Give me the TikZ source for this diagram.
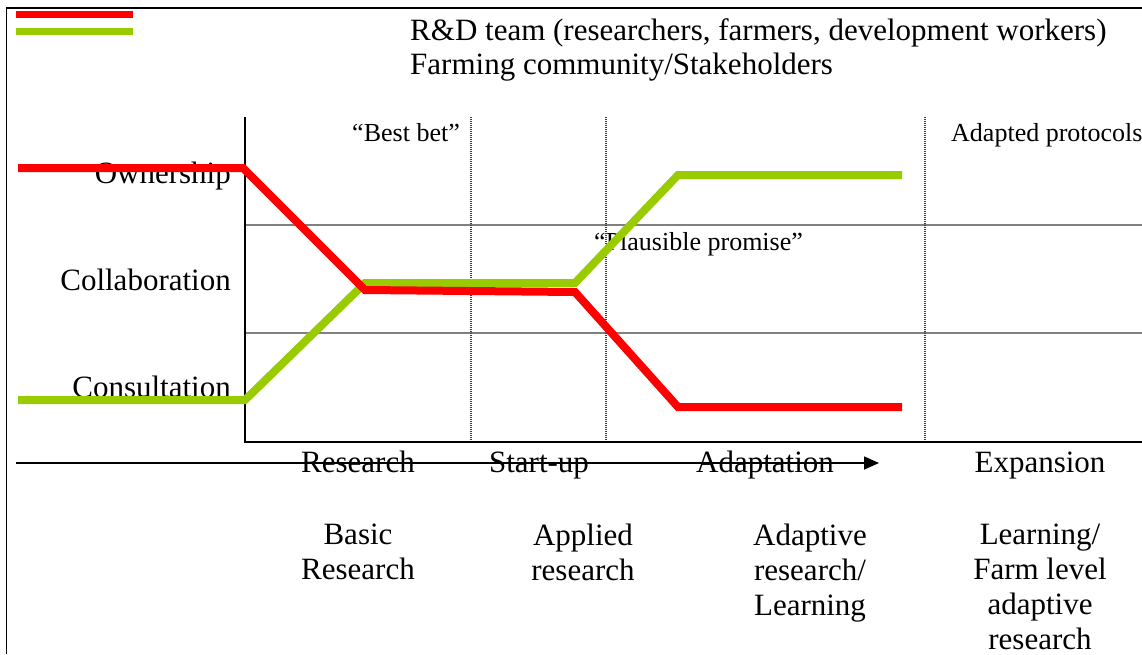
\documentclass[tikz,border=0pt]{standalone}
\usepackage{fontspec}
\setmainfont{Liberation Serif}
\usetikzlibrary{arrows.meta}
\definecolor{rdred}{HTML}{FF0000}
\definecolor{farmgreen}{HTML}{99CC00}
\definecolor{gridgray}{HTML}{808080}
\begin{document}
\begin{tikzpicture}[x=1pt,y=-1pt,
  big/.style={inner sep=0pt,font=\fontsize{31}{35}\selectfont},
  small/.style={inner sep=0pt,font=\fontsize{26}{30}\selectfont},
  stack/.style={big,align=center,anchor=north},
  gridline/.style={gridgray,line width=1.6pt},
  phaseline/.style={gridgray!45!black,line width=2pt,dash pattern=on 1pt off 1pt},
  curve/.style={line width=8pt,line join=miter,line cap=butt},
  frame/.style={black,line width=1.6pt}]
\useasboundingbox (0,0) rectangle (1142,654);

% outer frame
\draw[frame] (1142,8) -- (6.5,8) -- (6.5,654);

% legend
\draw[rdred,line width=7pt] (16,14) -- (133,14);
\draw[farmgreen,line width=7pt] (16,31) -- (133,31);
\node[big,anchor=base west] (legR) at (410,40) {R\&D team (researchers, farmers, development workers)};
\node[big,anchor=base west] (legF) at (410,74) {Farming community/Stakeholders};

% chart grid
\draw[gridline] (245,225) -- (1142,225);
\draw[gridline] (245,333) -- (1142,333);
\draw[phaseline] (471,117) -- (471,442);
\draw[phaseline] (606,117) -- (606,442);
\draw[phaseline] (925,117) -- (925,442);
\draw[frame] (245,117) -- (245,442) -- (1142,442);

% level labels
\node[big,anchor=base east] (own) at (231,183) {Ownership};
\node[big,anchor=base east] (col) at (231,290) {Collaboration};
\node[big,anchor=base east] (con) at (231,397) {Consultation};

% stage annotations
\node[small,anchor=base east] (bestbet) at (460,141) {``Best bet''};
\node[small,anchor=base west] (adapted) at (951,141) {Adapted protocols};
\node[small,anchor=base west] (plaus) at (594,250) {``Plausible promise''};

% participation curves
\draw[farmgreen,curve] (18,400) -- (245,400) -- (365,283) -- (575,283) -- (678,175) -- (902,175);
\draw[rdred,curve] (18,168) -- (243,168) -- (365,290) -- (575,292) -- (678,407) -- (902,407);

% time axis
\coordinate (axstart) at (16,463);
\coordinate (axend) at (879,463);
\draw[black,line width=1.6pt,-{Triangle[length=15pt,width=13pt]}] (axstart) -- (axend);

% phases
\node[big,anchor=base] (ph1) at (358,472) {Research};
\node[big,anchor=base] (ph2) at (539,472) {Start-up};
\node[big,anchor=base] (ph3) at (765,472) {Adaptation};
\node[big,anchor=base] (ph4) at (1040,472) {Expansion};

% research types
\node[stack] (rt1) at (358,524) {Basic\\Research};
\node[stack] (rt2) at (583,524) {Applied\\research};
\node[stack] (rt3) at (810,524) {Adaptive\\research/\\Learning};
\node[stack] (rt4) at (1040,524) {Learning/\\Farm level\\adaptive\\research};
\end{tikzpicture}
\end{document}
